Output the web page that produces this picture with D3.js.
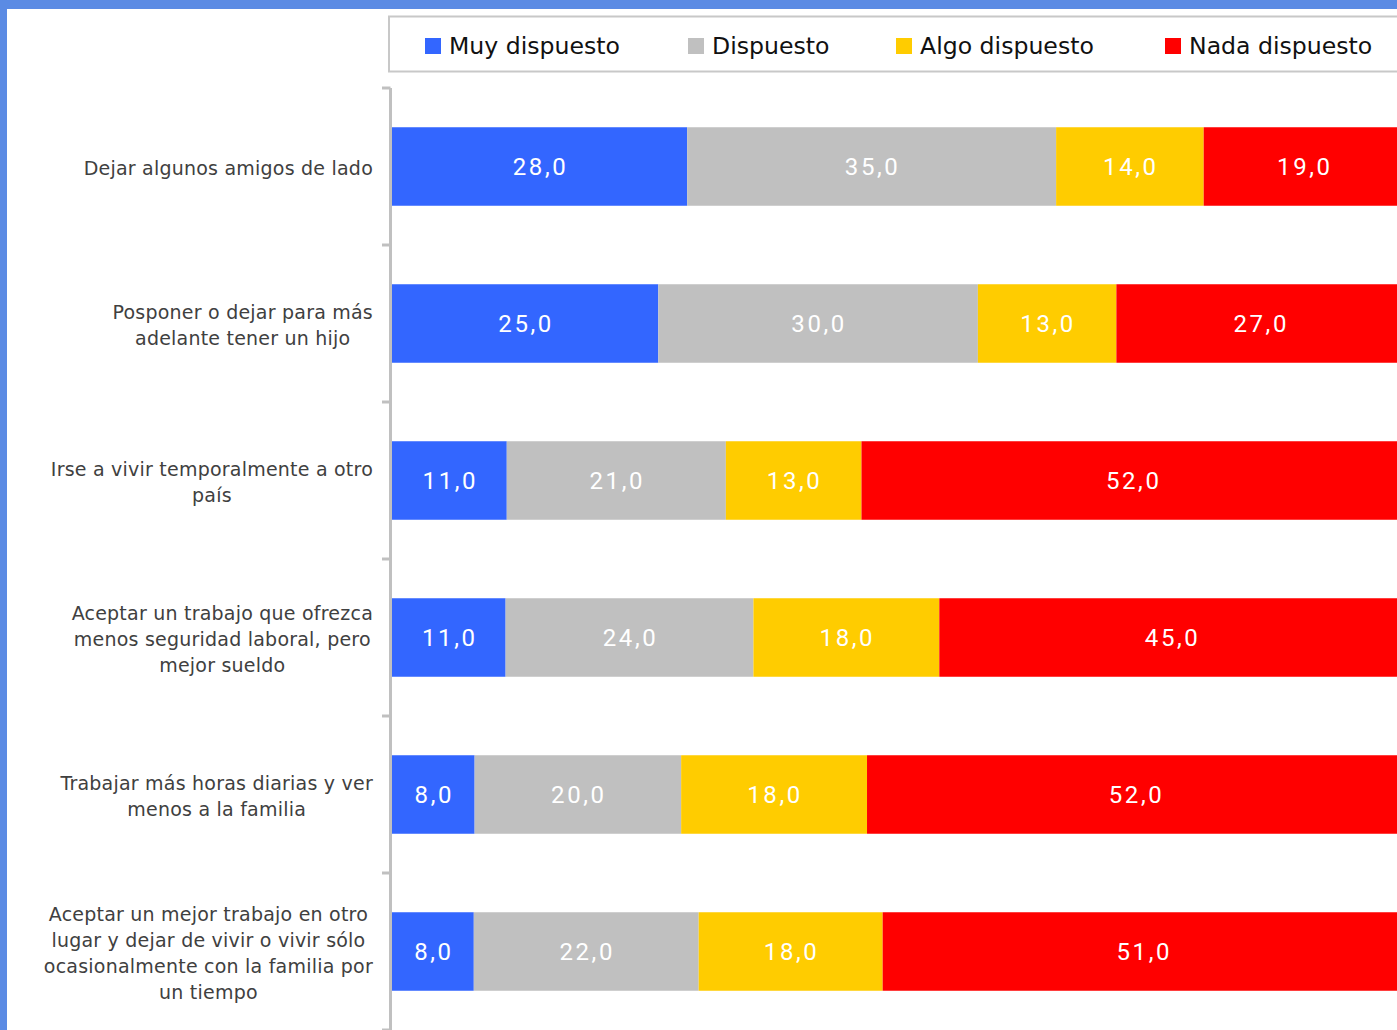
<!DOCTYPE html>
<html>
<head>
<meta charset="utf-8">
<script src="https://cdn.jsdelivr.net/npm/d3@7"></script>
<style>
  html, body { margin: 0; padding: 0; background: #fff; overflow: hidden; }
  svg { display: block; }
</style>
</head>
<body>
<svg id="chart" width="1397" height="1030"></svg>
<script>
const categories = [
  "Dejar algunos amigos de lado",
  "Posponer o dejar para más adelante tener un hijo",
  "Irse a vivir temporalmente a otro país",
  "Aceptar un trabajo que ofrezca menos seguridad laboral, pero mejor sueldo",
  "Trabajar más horas diarias y ver menos a la familia",
  "Aceptar un mejor trabajo en otro lugar y dejar de vivir o vivir sólo ocasionalmente con la familia por un tiempo"
];
const categoryLines = [
  ["Dejar algunos amigos de lado"],
  ["Posponer o dejar para más", "adelante tener un hijo"],
  ["Irse a vivir temporalmente a otro", "país"],
  ["Aceptar un trabajo que ofrezca", "menos seguridad laboral, pero", "mejor sueldo"],
  ["Trabajar más horas diarias y ver", "menos a la familia"],
  ["Aceptar un mejor trabajo en otro", "lugar y dejar de vivir o vivir sólo", "ocasionalmente con la familia por", "un tiempo"]
];
const seriesNames = ["Muy dispuesto", "Dispuesto", "Algo dispuesto", "Nada dispuesto"];
const muyDispuesto   = [28, 25, 11, 11, 8, 8];
const dispuesto      = [35, 30, 21, 24, 20, 22];
const algoDispuesto  = [14, 13, 13, 18, 18, 18];
const nadaDispuesto  = [19, 27, 52, 45, 52, 51];
const seriesColors = ["#3366ff", "#c0c0c0", "#ffcc00", "#ff0000"];

const svg = d3.select("#chart");
const W = 1397, H = 1030;

// frame
svg.append("rect").attr("x", 0).attr("y", 0).attr("width", W).attr("height", 9).attr("fill", "#5b8be4");
svg.append("rect").attr("x", 0).attr("y", 0).attr("width", 7).attr("height", H).attr("fill", "#5b8be4");

// data table
const table = categories.map((c, i) => ({
  cat: c,
  "Muy dispuesto": muyDispuesto[i],
  "Dispuesto": dispuesto[i],
  "Algo dispuesto": algoDispuesto[i],
  "Nada dispuesto": nadaDispuesto[i]
}));
const stacked = d3.stack().keys(seriesNames).offset(d3.stackOffsetExpand)(table);

const x = d3.scaleLinear().domain([0, 1]).range([392, 1404]);
const y = d3.scaleBand().domain(categories).range([88, 1030]).paddingInner(0.5).paddingOuter(0.25);
const color = d3.scaleOrdinal().domain(seriesNames).range(seriesColors);
const fmt = v => d3.format(".1f")(v).replace(".", ",");

// bars
const layers = svg.append("g").selectAll("g").data(stacked).join("g").attr("fill", d => color(d.key));
layers.selectAll("rect").data(d => d).join("rect")
  .attr("x", d => x(d[0]))
  .attr("y", d => y(d.data.cat))
  .attr("width", d => x(d[1]) - x(d[0]))
  .attr("height", y.bandwidth());

// value labels
const lbl = svg.append("g");
stacked.forEach(layer => {
  layer.forEach(d => {
    lbl.append("text")
      .attr("x", (x(d[0]) + Math.min(x(d[1]), 1404)) / 2 + 1)
      .attr("y", y(d.data.cat) + y.bandwidth() / 2)
      .attr("text-anchor", "middle")
      .attr("dominant-baseline", "central")
      .attr("font-family", "Roboto, sans-serif")
      .attr("font-size", 24)
      .attr("letter-spacing", 2.6)
      .attr("fill", "#ffffff")
      .text(fmt(d.data[layer.key]));
  });
});

// axis
const axisX = 390.5;
svg.append("line").attr("x1", axisX).attr("x2", axisX).attr("y1", 88).attr("y2", H)
  .attr("stroke", "#c0c0c0").attr("stroke-width", 3);
const tickYs = d3.range(categories.length + 1).map(i => 88 + i * y.step());
svg.append("g").selectAll("line").data(tickYs).join("line")
  .attr("x1", 382).attr("x2", axisX).attr("y1", d => d).attr("y2", d => d)
  .attr("stroke", "#c0c0c0").attr("stroke-width", 3);

// category labels
const lineH = 26;
categoryLines.forEach((lines, i) => {
  const cy = y(categories[i]) + y.bandwidth() / 2;
  const g = svg.append("g");
  const texts = lines.map((ln, j) => g.append("text")
    .attr("y", cy + (j - (lines.length - 1) / 2) * lineH + 1)
    .attr("text-anchor", "middle")
    .attr("dominant-baseline", "central")
    .attr("font-family", "'DejaVu Sans', Verdana, sans-serif")
    .attr("font-size", 19)
    .attr("letter-spacing", 0.22)
    .attr("fill", "#404040")
    .text(ln));
  const maxW = d3.max(texts, t => t.node().getComputedTextLength());
  texts.forEach(t => t.attr("x", 373 - maxW / 2));
});

// legend
svg.append("rect").attr("x", 389).attr("y", 16.5).attr("width", 1100).attr("height", 55)
  .attr("fill", "#fff").attr("stroke", "#c8c8c8").attr("stroke-width", 2);
const legendX = [425, 688, 896, 1165];
const lg = svg.append("g").selectAll("g").data(seriesNames).join("g")
  .attr("transform", (d, i) => `translate(${legendX[i]},0)`);
lg.append("rect").attr("x", 0).attr("y", 38).attr("width", 16).attr("height", 16).attr("fill", d => color(d));
lg.append("text").attr("x", 24).attr("y", 46).attr("dominant-baseline", "central")
  .attr("font-family", "'DejaVu Sans', Verdana, sans-serif").attr("font-size", 23.6)
  .attr("fill", "#111").text(d => d);
</script>
</body>
</html>
